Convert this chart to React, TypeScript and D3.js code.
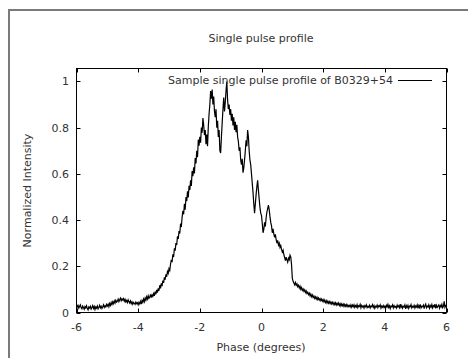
import React from "react";
import * as d3 from "d3";

const title = "Single pulse profile";
const legendLabel = "Sample single pulse profile of B0329+54";
const xLabel = "Phase (degrees)";
const yLabel = "Normalized Intensity";
const xTicks = [-6, -4, -2, 0, 2, 4, 6];
const yTicks = [0, 0.2, 0.4, 0.6, 0.8, 1];
const phaseStart = -6;
const phaseStep = 0.025;
const intensity = [
  0.034, 0.024, 0.031, 0.019, 0.027, 0.033, 0.021, 0.016, 0.028, 0.022, 0.014, 0.026, 0.020, 0.029, 0.017, 0.011, 0.024, 0.019, 0.027, 0.015,
  0.022, 0.030, 0.018, 0.026, 0.013, 0.024, 0.019, 0.028, 0.016, 0.023, 0.031, 0.020, 0.027, 0.018, 0.025, 0.033, 0.022, 0.029, 0.024, 0.035,
  0.028, 0.036, 0.025, 0.039, 0.031, 0.043, 0.034, 0.046, 0.038, 0.050, 0.041, 0.053, 0.045, 0.049, 0.058, 0.047, 0.055, 0.062, 0.051, 0.059,
  0.054, 0.060, 0.049, 0.057, 0.046, 0.052, 0.043, 0.055, 0.047, 0.041, 0.050, 0.039, 0.046, 0.036, 0.044, 0.040, 0.035, 0.045, 0.038, 0.042,
  0.033, 0.044, 0.037, 0.048, 0.036, 0.052, 0.044, 0.058, 0.047, 0.062, 0.053, 0.068, 0.058, 0.072, 0.061, 0.066, 0.078, 0.064, 0.076, 0.070,
  0.082, 0.072, 0.090, 0.079, 0.098, 0.086, 0.105, 0.094, 0.118, 0.104, 0.126, 0.114, 0.138, 0.128, 0.152, 0.142, 0.165, 0.155, 0.178, 0.170,
  0.190, 0.182, 0.210, 0.228, 0.218, 0.252, 0.240, 0.278, 0.268, 0.300, 0.292, 0.330, 0.318, 0.352, 0.342, 0.385, 0.370, 0.412, 0.440, 0.425,
  0.470, 0.445, 0.500, 0.482, 0.525, 0.498, 0.548, 0.530, 0.572, 0.548, 0.612, 0.590, 0.628, 0.602, 0.668, 0.645, 0.700, 0.672, 0.748, 0.722,
  0.760, 0.735, 0.800, 0.778, 0.842, 0.810, 0.768, 0.790, 0.728, 0.770, 0.720, 0.805, 0.860, 0.900, 0.958, 0.925, 0.965, 0.900, 0.935, 0.870,
  0.845, 0.880, 0.800, 0.830, 0.760, 0.790, 0.700, 0.690, 0.760, 0.820, 0.880, 0.930, 0.870, 0.910, 0.960, 1.000, 0.920, 0.880, 0.900, 0.855,
  0.880, 0.830, 0.860, 0.810, 0.845, 0.790, 0.825, 0.780, 0.812, 0.760, 0.740, 0.700, 0.715, 0.660, 0.640, 0.665, 0.605, 0.625, 0.660, 0.700,
  0.745, 0.720, 0.790, 0.760, 0.700, 0.660, 0.640, 0.600, 0.560, 0.520, 0.470, 0.430, 0.470, 0.510, 0.545, 0.572, 0.530, 0.490, 0.455, 0.430,
  0.420, 0.385, 0.345, 0.360, 0.390, 0.372, 0.410, 0.435, 0.450, 0.465, 0.445, 0.415, 0.390, 0.375, 0.345, 0.362, 0.340, 0.325, 0.338, 0.315,
  0.300, 0.312, 0.292, 0.300, 0.282, 0.290, 0.272, 0.262, 0.270, 0.250, 0.238, 0.225, 0.240, 0.228, 0.218, 0.235, 0.228, 0.248, 0.240, 0.205,
  0.148, 0.135, 0.128, 0.120, 0.130, 0.118, 0.124, 0.112, 0.118, 0.106, 0.114, 0.100, 0.108, 0.096, 0.102, 0.092, 0.098, 0.086, 0.093, 0.082,
  0.088, 0.077, 0.084, 0.072, 0.080, 0.068, 0.076, 0.065, 0.071, 0.061, 0.068, 0.058, 0.066, 0.056, 0.063, 0.054, 0.060, 0.051, 0.058, 0.049,
  0.056, 0.046, 0.054, 0.043, 0.051, 0.041, 0.049, 0.040, 0.047, 0.038, 0.046, 0.037, 0.044, 0.035, 0.043, 0.034, 0.042, 0.032, 0.040, 0.033,
  0.041, 0.030, 0.038, 0.028, 0.037, 0.029, 0.036, 0.026, 0.035, 0.027, 0.034, 0.025, 0.033, 0.026, 0.031, 0.024, 0.033, 0.023, 0.032, 0.025,
  0.033, 0.022, 0.030, 0.024, 0.034, 0.021, 0.029, 0.026, 0.035, 0.020, 0.031, 0.024, 0.028, 0.019, 0.030, 0.025, 0.033, 0.021, 0.027, 0.023,
  0.031, 0.020, 0.028, 0.025, 0.034, 0.022, 0.030, 0.018, 0.027, 0.024, 0.032, 0.021, 0.029, 0.026, 0.033, 0.019, 0.028, 0.023, 0.030, 0.021,
  0.027, 0.018, 0.031, 0.024, 0.035, 0.022, 0.029, 0.017, 0.028, 0.025, 0.033, 0.020, 0.030, 0.023, 0.026, 0.019, 0.032, 0.024, 0.029, 0.021,
  0.036, 0.022, 0.030, 0.019, 0.027, 0.024, 0.033, 0.016, 0.029, 0.022, 0.031, 0.018, 0.028, 0.025, 0.034, 0.020, 0.027, 0.023, 0.031, 0.019,
  0.028, 0.024, 0.033, 0.018, 0.030, 0.022, 0.035, 0.020, 0.027, 0.025, 0.032, 0.017, 0.029, 0.036, 0.021, 0.028, 0.024, 0.033, 0.019, 0.030,
  0.023, 0.034, 0.020, 0.029, 0.025, 0.036, 0.018, 0.031, 0.022, 0.028, 0.033, 0.019, 0.030, 0.024, 0.035, 0.021, 0.027, 0.048, 0.022, 0.030,
  0.026,
];

const W = 468;
const H = 358;
const left = 76.5;
const right = 446.5;
const top = 68.5;
const bottom = 312.5;
const textColor = "#333";
const font = "'DejaVu Sans', sans-serif";

export default function App() {
  const x = d3.scaleLinear().domain([-6, 6]).range([left, right]);
  const y = d3.scaleLinear().domain([0, 1.056]).range([bottom, top]);
  const pts = intensity.map((v, i) => [phaseStart + i * phaseStep, v] as [number, number]);
  const line = d3
    .line<[number, number]>()
    .x((d) => x(d[0]))
    .y((d) => y(d[1]));
  const tl = 4;
  return (
    <svg
      width={W}
      height={H}
      style={{ position: "absolute", left: 0, top: 0, background: "#fff" }}
      fontFamily={font}
      fontSize={11}
    >
      <rect x={9} y={10} width={700} height={700} fill="none" stroke="#7a7a7a" strokeWidth={2} />
      <text x={261} y={42} textAnchor="middle" fill={textColor}>{title}</text>
      <g stroke="#000" strokeWidth={1} fill="none">
        {xTicks.map((t) => (
          <g key={"x" + t}>
            <line x1={Math.round(x(t)) + 0.5} x2={Math.round(x(t)) + 0.5} y1={bottom} y2={bottom - tl} />
            <line x1={Math.round(x(t)) + 0.5} x2={Math.round(x(t)) + 0.5} y1={top} y2={top + tl} />
          </g>
        ))}
        {yTicks.map((t) => (
          <g key={"y" + t}>
            <line x1={left} x2={left + tl} y1={Math.round(y(t)) + 0.5} y2={Math.round(y(t)) + 0.5} />
            <line x1={right} x2={right - tl} y1={Math.round(y(t)) + 0.5} y2={Math.round(y(t)) + 0.5} />
          </g>
        ))}
      </g>
      <path d={line(pts) || ""} fill="none" stroke="#000" strokeWidth={1.2} strokeLinejoin="miter" />
      <rect x={left} y={top} width={right - left} height={bottom - top} fill="none" stroke="#000" strokeWidth={1} />
      {xTicks.map((t) => (
        <text key={"xl" + t} x={x(t)} y={331} textAnchor="middle" fill={textColor}>{t}</text>
      ))}
      {yTicks.map((t) => (
        <text key={"yl" + t} x={69} y={y(t) + 4} textAnchor="end" fill={textColor}>{t}</text>
      ))}
      <text x={261} y={351} textAnchor="middle" fill={textColor}>{xLabel}</text>
      <text transform={`translate(31,${(top + bottom) / 2}) rotate(-90)`} textAnchor="middle" fill={textColor}>{yLabel}</text>
      <text x={393} y={84} textAnchor="end" fill={textColor}>{legendLabel}</text>
      <line x1={398} x2={432} y1={80.5} y2={80.5} stroke="#000" strokeWidth={1} />
    </svg>
  );
}
